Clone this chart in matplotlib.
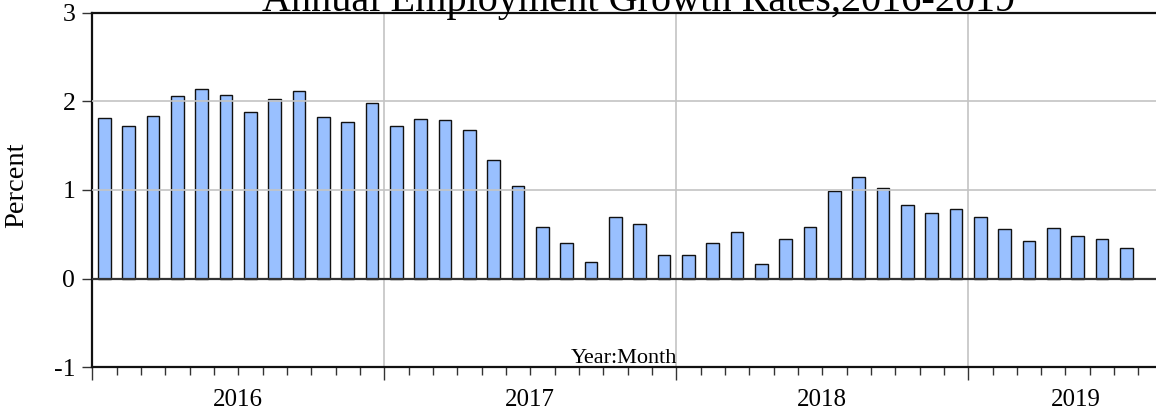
import matplotlib
matplotlib.use("Agg")
import matplotlib.pyplot as plt
import matplotlib.transforms as mtransforms
import numpy as np

# ---- data ----
years = ["2016", "2017", "2018", "2019"]
growth_2016 = [1.81, 1.72, 1.84, 2.06, 2.14, 2.07, 1.88, 2.03, 2.12, 1.82, 1.77, 1.98]
growth_2017 = [1.72, 1.80, 1.79, 1.68, 1.34, 1.04, 0.58, 0.40, 0.19, 0.69, 0.62, 0.27]
growth_2018 = [0.27, 0.40, 0.53, 0.17, 0.45, 0.58, 0.99, 1.15, 1.02, 0.83, 0.74, 0.79]
growth_2019 = [0.69, 0.56, 0.43, 0.57, 0.48, 0.45, 0.35]
year_label_pos = [6, 18, 30, 40.43]   # month index where each year label sits
y_ticks = [-1, 0, 1, 2, 3]

values = growth_2016 + growth_2017 + growth_2018 + growth_2019
months = np.arange(len(values)) + 0.5

plt.rcParams['font.family'] = ['Liberation Serif', 'DejaVu Serif']

W, H = 1156, 413
fig = plt.figure(figsize=(W / 100, H / 100), dpi=100)
ax_left, ax_right = 92.3 / W, 1.0
ax_bottom, ax_top = 1 - 367.3 / H, 1 - 12.7 / H
ax = fig.add_axes([ax_left, ax_bottom, ax_right - ax_left, ax_top - ax_bottom])

ax.set_xlim(0, 43.72)
ax.set_ylim(-1, 3)

ax.bar(months, values, width=0.52, color='#99c0ff', edgecolor='#111111',
       linewidth=1.0, zorder=2)

# grid (drawn over the bars, as in the reference)
for yv in [1, 2]:
    ax.axhline(yv, color='#c4c4c4', lw=1.2, zorder=3)
for xv in [12, 24, 36]:
    ax.axvline(xv, color='#c4c4c4', lw=1.2, zorder=1)
ax.axhline(0, color='#333333', lw=1.6, zorder=4)

# spines
for s in ['left', 'bottom', 'top']:
    ax.spines[s].set_linewidth(1.6)
    ax.spines[s].set_color('#111111')
ax.spines['right'].set_visible(False)

# y ticks
ax.set_yticks(y_ticks)
ax.set_yticklabels([str(v) for v in y_ticks])
ax.tick_params(axis='y', direction='out', length=7.2, width=1.0, pad=5,
               labelsize=18.5, color='#333333')

# x ticks: majors at year boundaries, minors at month boundaries
ax.set_xticks([0, 12, 24, 36])
ax.set_xticklabels([])
ax.set_xticks(np.arange(0, 44), minor=True)
ax.tick_params(axis='x', which='major', direction='out', length=9.4, width=1.0,
               color='#333333')
ax.tick_params(axis='x', which='minor', direction='out', length=5.8, width=1.0,
               color='#333333')

trans = mtransforms.blended_transform_factory(ax.transData, ax.transAxes)
for pos, lab in zip(year_label_pos, years):
    ax.text(pos, (367.3 - 389.0) / 354.6, lab, transform=trans, ha='center',
            va='top', fontsize=18, clip_on=False)

ax.text(0.5, 0.012, "Year:Month", transform=ax.transAxes, ha='center',
        va='baseline', fontsize=16)

fig.text(16.7 / W, 1 - 185 / H, "Percent", rotation=90, ha='center',
         va='center', fontsize=20.5)

fig.text(639 / W, 1 - 11 / H, "Annual Employment Growth Rates,2016-2019",
         ha='center', va='baseline', fontsize=29)

fig.savefig("out.png", dpi=100)
